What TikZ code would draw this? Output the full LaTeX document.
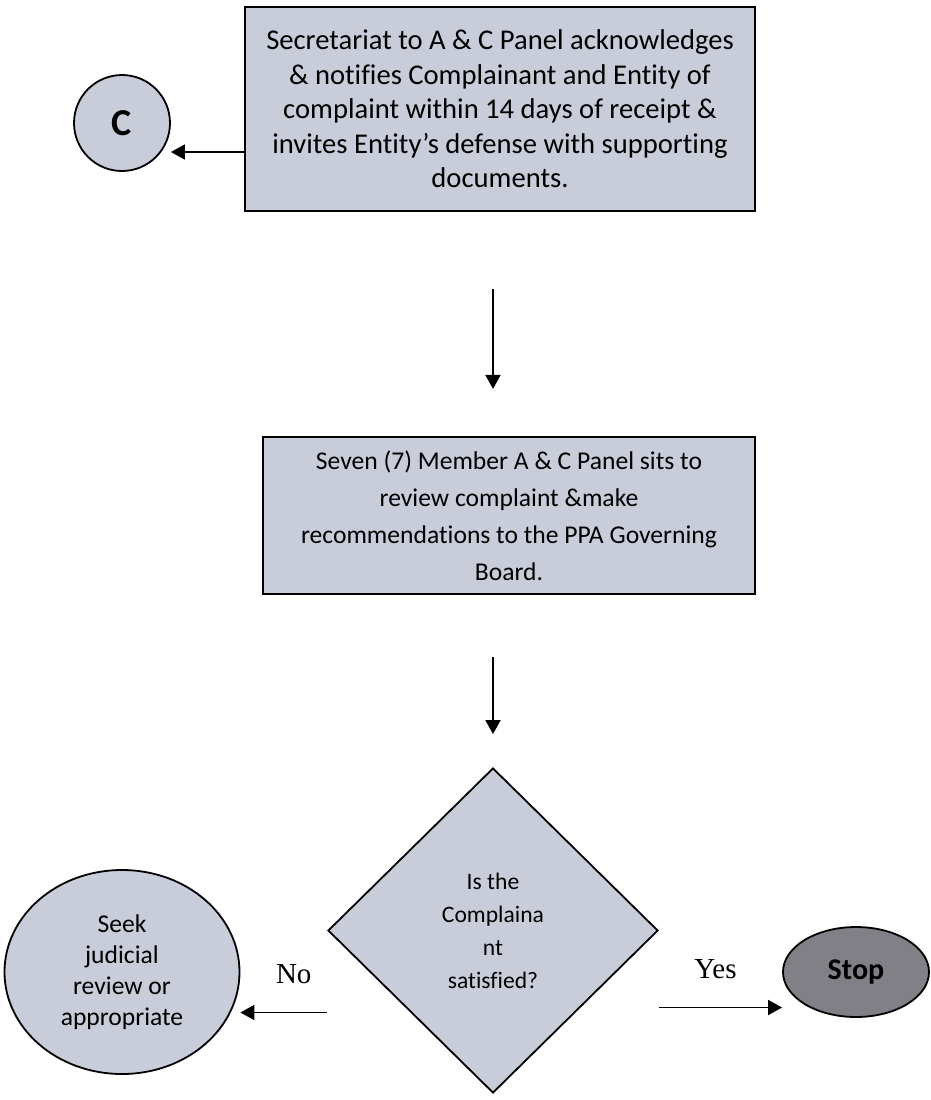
\documentclass[tikz,border=0pt]{standalone}
\usepackage{fontspec}
\setmainfont{Carlito}[Ligatures={NoCommon,NoContextual}]
\newfontfamily\timesfont{Liberation Serif}
\usetikzlibrary{shapes.geometric,arrows.meta}
\definecolor{boxgray}{RGB}{201,205,217}
\definecolor{stopgray}{RGB}{128,128,134}
\tikzset{
	procbox/.style={draw=black, fill=boxgray, line width=1.1pt, rectangle, align=center, inner sep=0pt},
	roundnode/.style={draw=black, fill=boxgray, line width=0.9pt, ellipse, align=center, inner sep=0pt},
	decision/.style={draw=black, fill=boxgray, line width=0.9pt, diamond, align=center, inner sep=0pt},
	flow/.style={draw=black, line width=0.9pt, -{Triangle[length=7pt,width=7.5pt]}},
	answer/.style={font=\timesfont\fontsize{14.5}{16}\selectfont, inner sep=0pt}
}
\begin{document}
\begin{tikzpicture}[x=0.5pt, y=-0.5pt]
		\useasboundingbox (0,0) rectangle (931,1100);
		\node[procbox, minimum width=255pt, minimum height=102pt, font=\fontsize{14.3}{17.25}\selectfont] (secr) at (500,109)
			{Secretariat to A \& C Panel acknowledges\\ \& notifies Complainant and Entity of\\ complaint within 14 days of receipt \&\\ invites Entity’s defense with supporting\\ documents.};
		\node[roundnode, minimum width=48pt, minimum height=48pt, font=\bfseries\fontsize{19}{21}\selectfont] (cnode) at (122,123) {C};
		\node[procbox, minimum width=246pt, minimum height=78.5pt, font=\fontsize{12.8}{18.5}\selectfont] (panel) at (509,515.5)
			{Seven (7) Member A \& C Panel sits to\\ review complaint \&make\\ recommendations to the PPA Governing\\ Board.};
		\node[decision, minimum width=165pt, minimum height=162.5pt, font=\fontsize{11.8}{16.5}\selectfont] (dec) at (493,930.5)
			{Is the\\ Complaina\\ nt\\ satisfied?};
		\node[roundnode, minimum width=117.5pt, minimum height=102pt, font=\fontsize{12.8}{15.5}\selectfont] (seek) at (122,972)
			{Seek\\ judicial\\ review or\\ appropriate};
		\node[roundnode, fill=stopgray, minimum width=73pt, minimum height=45pt, font=\bfseries\fontsize{15}{17}\selectfont] (stop) at (856,972) {Stop};
		\draw[flow] ([yshift=-21.5pt]secr.west) -- ([yshift=-21.5pt]secr.west -| cnode.east);
		\draw[flow, shorten <=38.5pt, shorten >=23.5pt] (secr.south -| dec.north) -- (panel.north -| dec.north);
		\draw[flow, shorten <=31pt, shorten >=16.5pt] (panel.south -| dec.north) -- (dec.north);
		\draw[flow] ([yshift=-41pt]dec.west) -- ([yshift=-41pt]dec.west -| seek.east)
			node[answer, midway, above=14pt, xshift=5pt] {No};
		\draw[flow] ([yshift=-38.5pt]dec.east) -- ([yshift=-38.5pt]dec.east -| stop.west)
			node[answer, midway, above=14pt, xshift=-2.5pt] {Yes};
	\end{tikzpicture}
\end{document}
